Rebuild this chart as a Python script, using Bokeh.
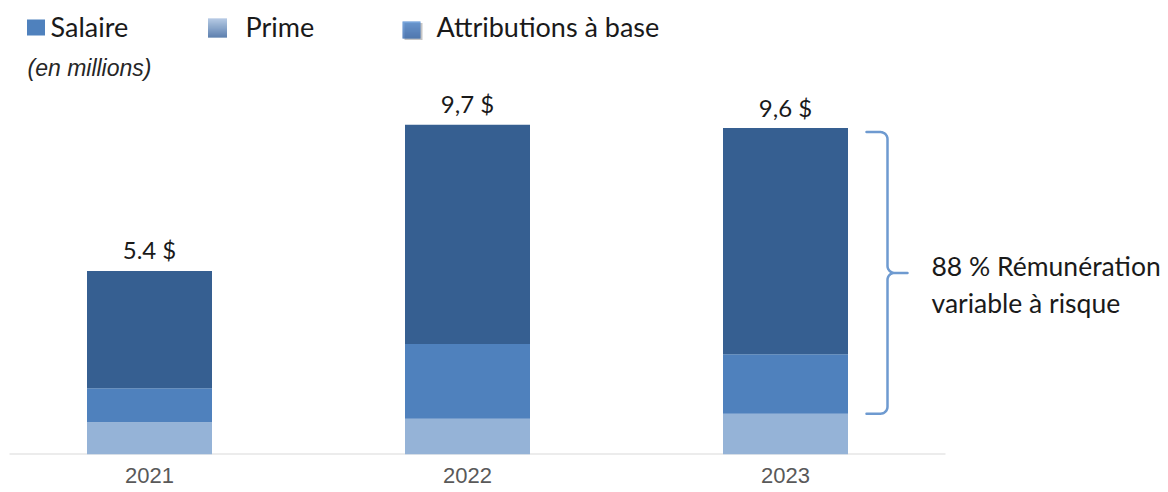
import numpy as np
from bokeh.plotting import figure
from bokeh.models import ColumnDataSource, Range1d, FixedTicker
from bokeh.core.properties import value
from bokeh.embed import file_html
from bokeh.resources import INLINE

# ---------------- data ----------------
years = ["2021", "2022", "2023"]
salaire = [0.95, 1.05, 1.20]
prime = [1.00, 2.20, 1.75]
attributions = [3.45, 6.45, 6.65]
total_labels = ["5.4 $", "9,7 $", "9,6 $"]
legend_labels = ["Salaire", "Prime", "Attributions à base"]
unit_note = "(en millions)"
brace_text = ["88 % Rémunération", "variable à risque"]

# ---------------- layout helpers (page pixels -> data) ----------------
W, H = 1168, 492
PXU = 318.0   # pixels per category step
PYU = 34.0    # pixels per million
ORIGIN_X = 149.0  # page x of first category centre
BASE_Y = 454.0    # page y of zero line
TXT_DY = 9        # baseline correction for text glyphs


def X(px):
    return (px - ORIGIN_X) / PXU


def Y(py):
    return (BASE_Y - py) / PYU


xs = list(range(len(years)))
totals = [s + p + a for s, p, a in zip(salaire, prime, attributions)]

p = figure(width=W, height=H, output_backend="svg", toolbar_location=None,
           x_range=Range1d(X(0), X(W)), y_range=Range1d(Y(BASE_Y), Y(0)),
           y_axis_location=None, min_border_left=0, min_border_right=0,
           min_border_top=0, min_border_bottom=int(H - BASE_Y), outline_line_color=None)
p.grid.visible = False
p.background_fill_color = "white"
p.border_fill_color = "white"

src = ColumnDataSource(dict(x=xs, salaire=salaire, prime=prime,
                            attributions=attributions, total=totals,
                            label=total_labels))

# baseline
p.segment(x0=[X(9)], y0=[0], x1=[X(945)], y1=[0], line_color="#d9d9d9", line_width=2)

p.vbar_stack(["salaire", "prime", "attributions"], x="x", width=125 / PXU,
             color=["#95B3D7", "#4F81BD", "#365F91"], line_color=None, source=src)

# totals
p.text(x="x", y="total", text="label", source=src, text_align="center",
       text_baseline="alphabetic", y_offset=-12 - TXT_DY, text_font=value("Lato"),
       text_font_size="24px", text_color="#1a1a1a")

# x axis
ax = p.xaxis[0]
ax.ticker = FixedTicker(ticks=xs)
ax.major_label_overrides = {i: y for i, y in zip(xs, years)}
ax.axis_line_color = None
ax.major_tick_line_color = None
ax.minor_tick_line_color = None
ax.major_tick_out = 0
ax.major_tick_in = 0
ax.major_label_standoff = 13
ax.major_label_text_font = "Liberation Sans"
ax.major_label_text_font_size = "22px"
ax.major_label_text_color = "#595959"

# ---------------- legend (manual) ----------------
# Salaire square
p.rect(x=[X(35.5)], y=[Y(27)], width=18, height=16, width_units="screen",
       height_units="screen", fill_color="#4F81BD", line_color=None)
# Prime square (vertical gradient)
n = 19
c0 = np.array([0x9D, 0xB8, 0xDC])
c1 = np.array([0x2C, 0x5A, 0x96])
cols = ["#%02x%02x%02x" % tuple(int(v) for v in (c0 + (c1 - c0) * t))
        for t in np.linspace(0, 1, n)]
p.rect(x=[X(217)] * n, y=[Y(18.5 + i) for i in range(n)], width=19, height=1.2,
       width_units="screen", height_units="screen", fill_color=cols, line_color=None)
# Attributions square with shadow
p.rect(x=[X(413)], y=[Y(31)], width=18, height=17, width_units="screen",
       height_units="screen", fill_color="#7f7f7f", fill_alpha=0.45, line_color=None)
m = 17
a0 = np.array([0x4A, 0x86, 0xD0])
a1 = np.array([0x2A, 0x60, 0xA8])
acols = ["#%02x%02x%02x" % tuple(int(v) for v in (a0 + (a1 - a0) * t))
         for t in np.linspace(0, 1, m)]
p.rect(x=[X(411)] * m, y=[Y(21.5 + i) for i in range(m)], width=18, height=1.2,
       width_units="screen", height_units="screen", fill_color=acols, line_color=None)

p.text(x=[X(50), X(245), X(436)], y=[Y(36 - TXT_DY - 1)] * 3, text=legend_labels,
       text_baseline="alphabetic", text_align="left", text_font=value("Lato"),
       text_font_size="27px", text_color="#1a1a1a")
p.text(x=[X(27)], y=[Y(74 - 7)], text=[unit_note], text_baseline="alphabetic",
       text_font=value("Liberation Sans"), text_font_style="italic",
       text_font_size="23px", text_color="#262626")

# ---------------- brace for last year ----------------
i = len(years) - 1
top_pg = BASE_Y - totals[i] * PYU + 4
bot_pg = BASE_Y - salaire[i] * PYU
mid_pg = (top_pg + bot_pg) / 2
vx = ORIGIN_X + xs[i] * PXU + 102   # vertical line
ex = vx - 21   # ends
tx = vx + 20   # tip
r = 7.0
pts = [(ex, top_pg), (vx - r, top_pg)]
for th in np.linspace(np.pi / 2, 0, 10):
    pts.append((vx - r + r * np.cos(th), top_pg + r - r * np.sin(th)))
pts.append((vx, mid_pg - r))
for th in np.linspace(np.pi, 1.5 * np.pi, 10):
    pts.append((vx + r + r * np.cos(th), mid_pg - r - r * np.sin(th)))
pts.append((tx, mid_pg))
pts.append((vx + r, mid_pg))
for th in np.linspace(0.5 * np.pi, np.pi, 10):
    pts.append((vx + r + r * np.cos(th), mid_pg + r - r * np.sin(th)))
pts.append((vx, bot_pg - r))
for th in np.linspace(0, -0.5 * np.pi, 10):
    pts.append((vx - r + r * np.cos(th), bot_pg - r - r * np.sin(th)))
pts.append((ex, bot_pg))
p.line(x=[X(a) for a, b in pts], y=[Y(b) for a, b in pts], line_color="#6E9AD0",
       line_width=2.5, line_join="round", line_cap="round")

p.text(x=[X(931)] * 2, y=[Y(274 - TXT_DY), Y(311 - TXT_DY)], text=brace_text,
       text_baseline="alphabetic", text_align="left", text_font=value("Lato"),
       text_font_size="26.5px", text_color="#1a1a1a")

open("out.html", "w").write(file_html(p, INLINE))
